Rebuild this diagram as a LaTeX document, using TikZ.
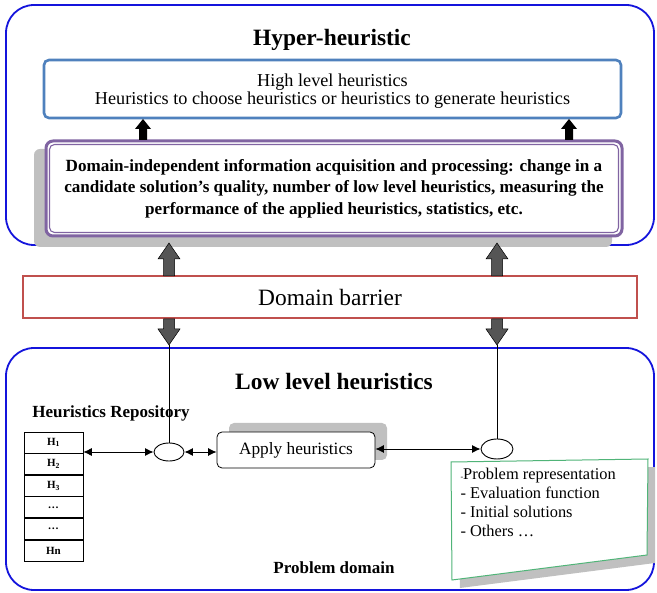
\documentclass[tikz,border=0pt]{standalone}
\usepackage{fontspec}
\setmainfont{Liberation Serif}
\usetikzlibrary{arrows.meta,shapes.geometric}
\definecolor{frameblue}{RGB}{20,20,220}
\definecolor{hlblue}{RGB}{79,129,189}
\definecolor{purp}{RGB}{128,100,162}
\definecolor{barred}{RGB}{192,80,77}
\definecolor{notegreen}{RGB}{80,180,120}
\definecolor{shadowgray}{RGB}{192,192,192}
\definecolor{arrgray}{RGB}{85,85,85}
\tikzset{
  outerbox/.style={draw=frameblue,line width=1.8pt,rounded corners=28pt,fill=white},
  conn/.style={line width=0.9pt,{Latex[length=8.5pt,width=8pt]}-{Latex[length=8.5pt,width=8pt]}},
  repocell/.style={draw,line width=0.6pt,minimum width=59pt,minimum height=21pt,inner sep=0pt,font=\fontsize{11}{13}\selectfont\bfseries},
  ell/.style={draw,ellipse,line width=0.9pt,fill=white,inner sep=0pt},
}
\begin{document}
\begin{tikzpicture}[x=1pt,y=-1pt]
\useasboundingbox (0,0) rectangle (657,593);
% top frame
\node[outerbox,minimum width=648pt,minimum height=240pt] (hyper) at (330,125) {};
\node[font=\fontsize{23.4}{28}\selectfont\bfseries] (title) at (332,40) {Hyper-heuristic};
% high level box
\node[draw=hlblue,line width=2.6pt,rounded corners=5pt,fill=white,minimum width=577pt,minimum height=58pt] (high) at (332.5,89) {};
\node[align=center,font=\fontsize{18.2}{18}\selectfont] (hightext) at (332.5,91.5) {High level heuristics\\Heuristics to choose heuristics or heuristics to generate heuristics};
% domain independent box
\fill[shadowgray,rounded corners=6pt] (34,149) rectangle (612,247);
\node[draw=purp,line width=3pt,rounded corners=7pt,fill=white,minimum width=576pt,minimum height=95pt] (dom) at (334,188.5) {};
\draw[purp,line width=1.1pt,rounded corners=5pt] ([shift={(5,5)}]dom.north west) rectangle ([shift={(-5,-5)}]dom.south east);
\node[align=center,font=\fontsize{17.1}{21.5}\selectfont\bfseries] (domtext) at (dom.center) {Domain-independent information acquisition and processing: change in a\\candidate solution's quality, number of low level heuristics, measuring the\\performance of the applied heuristics, statistics, etc.};
% black up arrows
\coordinate (ua1) at (143,140);
\coordinate (ua2) at (569,140);
\foreach \c in {ua1,ua2}{
  \fill[black] ([shift={(-4,0)}]\c) -- ([shift={(-4,-11)}]\c) -- ([shift={(-8,-11)}]\c) -- ([shift={(0,-21)}]\c) -- ([shift={(8,-11)}]\c) -- ([shift={(4,-11)}]\c) -- ([shift={(4,0)}]\c) -- cycle;
}
% barrier
\node[draw=barred,line width=2.6pt,fill=white,minimum width=614pt,minimum height=42pt,font=\fontsize{23.4}{28}\selectfont] (barrier) at (330,297) {Domain barrier};
% bottom frame
\node[outerbox,minimum width=648pt,minimum height=242pt] (low) at (330,469) {};
% gray double arrows
\foreach \x in {169,497}{
  \filldraw[fill=arrgray,draw=black,line width=0.5pt] (\x-5.5,276) -- (\x-5.5,259) -- (\x-11,259) -- (\x,243) -- (\x+11,259) -- (\x+5.5,259) -- (\x+5.5,276) -- cycle;
  \filldraw[fill=arrgray,draw=black,line width=0.5pt] (\x-5.5,319) -- (\x-5.5,329) -- (\x-11,329) -- (\x,345) -- (\x+11,329) -- (\x+5.5,329) -- (\x+5.5,319) -- cycle;
}
\node[font=\fontsize{23.4}{28}\selectfont\bfseries] (lowtitle) at (334,382) {Low level heuristics};
\node[font=\fontsize{17}{20}\selectfont\bfseries] (repotitle) at (111,413) {Heuristics Repository};
% repository table
\node[repocell] (r1) at (53.5,442.5) {H\textsubscript{1}};
\node[repocell,anchor=north] (r2) at (r1.south) {H\textsubscript{2}};
\node[repocell,anchor=north] (r3) at (r2.south) {H\textsubscript{3}};
\node[repocell,anchor=north] (r4) at (r3.south) {\dots};
\node[repocell,anchor=north] (r5) at (r4.south) {\dots};
\node[repocell,anchor=north] (r6) at (r5.south) {Hn};
% ellipses
\node[ell,minimum width=30pt,minimum height=18pt] (e1) at (169,452) {};
\node[ell,minimum width=32pt,minimum height=20pt] (e2) at (497,449) {};
% apply heuristics
\fill[shadowgray,rounded corners=5pt] (229,423) rectangle (387,460);
\node[draw,line width=0.8pt,rounded corners=5pt,fill=white,minimum width=158pt,minimum height=36pt,font=\fontsize{17.3}{20}\selectfont] (apply) at (296,450) {Apply heuristics};
% vertical lines
\coordinate (t1) at (169,345);
\coordinate (t2) at (497,345);
\draw[line width=0.9pt] (t1) -- (e1.north);
\draw[line width=0.9pt] (t2) -- (e2.north);
% connectors
\draw[conn] (r1.east |- e1.west) -- (e1.west);
\draw[conn] (e1.east) -- (apply.west |- e1.east);
\draw[conn] (apply.east |- e2.west) -- (e2.west);
% note
\fill[shadowgray] (458,470) -- (655,467) -- (655,563) -- (460,588) -- cycle;
\draw[notegreen,line width=1pt,fill=white] (451,462) coordinate (n1) -- (648,459) -- (647,555) -- (452,580) -- cycle;
\node[anchor=north west,align=left,font=\fontsize{16.4}{19}\selectfont] (notetext) at (457,465) {{\fontsize{8}{10}\selectfont-}Problem representation\\- Evaluation function\\- Initial solutions\\- Others \dots};
\node[font=\fontsize{17}{20}\selectfont\bfseries] (pd) at (334,568) {Problem domain};
\end{tikzpicture}
\end{document}
